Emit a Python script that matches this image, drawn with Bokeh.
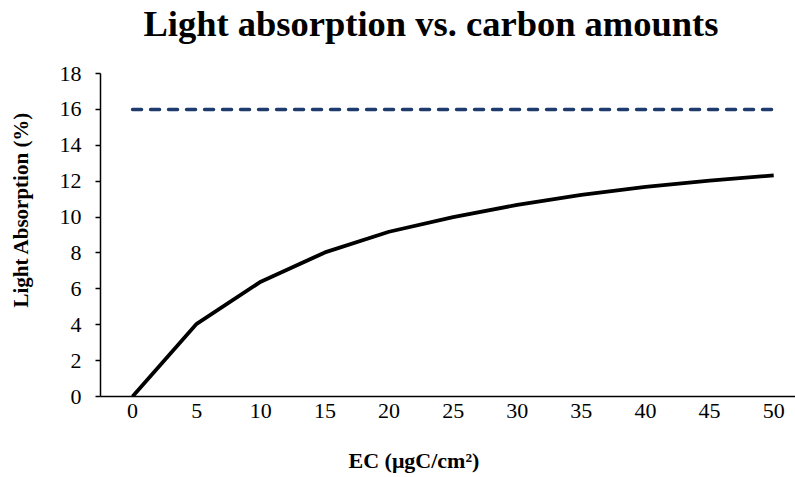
from bokeh.plotting import figure
from bokeh.models import Range1d, FixedTicker, Title
from bokeh.embed import file_html
from bokeh.resources import INLINE

ec = [0, 5, 10, 15, 20, 25, 30, 35, 40, 45, 50]
absorption = [0.0, 4.05, 6.4, 8.03, 9.18, 10.0, 10.68, 11.24, 11.68, 12.03, 12.32]
limit = [16, 16, 16, 16, 16, 16, 16, 16, 16, 16, 16]
y_ticks = [0, 2, 4, 6, 8, 10, 12, 14, 16, 18]

FONT = "Liberation Serif"

p = figure(width=795, height=477, output_backend="svg", toolbar_location=None,
           x_range=Range1d(-2.5, 51.7), y_range=Range1d(0, 18),
           min_border_left=100, min_border_right=0, min_border_top=73, min_border_bottom=81)
p.outline_line_color = None
p.grid.visible = False
p.background_fill_color = "white"
p.border_fill_color = "white"

p.title.text = "Light absorption vs. carbon amounts"
p.title.text_font = FONT
p.title.text_font_size = "36.5px"
p.title.text_font_style = "bold"
p.title.text_color = "black"
p.title.align = "left"
p.title.offset = 43
p.title.standoff = 0

p.line(ec, limit, line_color="#1F3B6E", line_width=3.5, line_dash="9 9", line_cap="round")
p.line(ec, absorption, line_color="black", line_width=3.8, line_join="round")

p.xaxis.ticker = FixedTicker(ticks=ec)
p.yaxis.ticker = FixedTicker(ticks=y_ticks)
for ax in (p.xaxis[0], p.yaxis[0]):
    ax.axis_line_color = "black"
    ax.axis_line_width = 1.5
    ax.major_label_text_font = FONT
    ax.major_label_text_font_size = "22px"
    ax.major_label_text_color = "black"
    ax.minor_tick_line_color = None
    ax.major_tick_in = 0
p.xaxis.major_tick_out = 0
p.xaxis.major_label_standoff = 7
p.yaxis.major_tick_out = 5
p.yaxis.major_tick_line_color = "black"
p.yaxis.major_tick_line_width = 1.5
p.yaxis.major_label_standoff = 14


def spacer(gap):
    return Title(text=" ", text_font_size="1px", standoff=gap)


p.add_layout(spacer(27), "above")

xlab = Title(text="EC (μgC/cm²)", text_font=FONT, text_font_size="22px", text_color="black",
             text_font_style="bold", align="left", offset=248, standoff=0)
p.add_layout(spacer(22), "below")
p.add_layout(xlab, "below")

ylab = Title(text="Light Absorption (%)", text_font=FONT, text_font_size="21px", text_color="black",
             text_font_style="bold", align="left", offset=89, standoff=0)
p.add_layout(spacer(21), "left")
p.add_layout(ylab, "left")

open("out.html", "w").write(file_html(p, INLINE))
